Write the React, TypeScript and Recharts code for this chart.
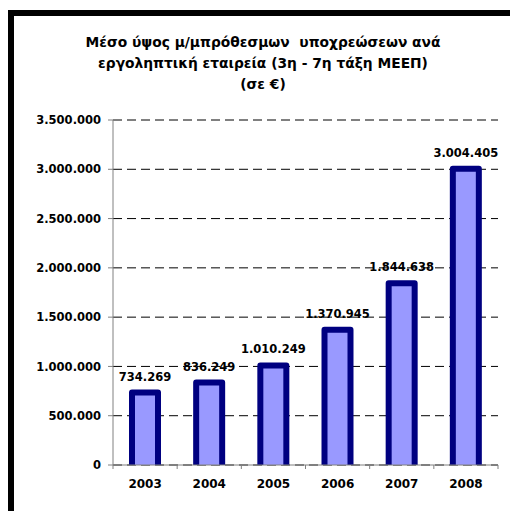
import React from 'react';
import { BarChart, Bar, XAxis, YAxis, CartesianGrid, LabelList } from 'recharts';

const years = ['2003', '2004', '2005', '2006', '2007', '2008'];
const values = [734269, 836249, 1010249, 1370945, 1844638, 3004405];
const yTicks = [0, 500000, 1000000, 1500000, 2000000, 2500000, 3000000, 3500000];
const titleLines = [
  'Μέσο ύψος μ/μπρόθεσμων  υποχρεώσεων ανά',
  'εργοληπτική εταιρεία (3η - 7η τάξη ΜΕΕΠ)',
  '(σε €)',
];

const data = years.map((y, i) => ({ year: y, value: values[i] }));

const fmt = (v: number) => String(Math.round(v)).replace(/\B(?=(\d{3})+(?!\d))/g, '.');

const FONT = '"DejaVu Sans", Verdana, sans-serif';

const XTick = (props: any) => {
  const { x, y, payload, index, visibleTicksCount, width } = props;
  const bw = width / visibleTicksCount;
  const left = x - bw / 2;
  return (
    <g>
      <line x1={left} x2={left} y1={y - 6} y2={y - 2} stroke="#808080" strokeWidth={1} />
      {index === visibleTicksCount - 1 && (
        <line x1={x + bw / 2} x2={x + bw / 2} y1={y - 6} y2={y - 2} stroke="#808080" strokeWidth={1} />
      )}
      <text x={x} y={y + 17} textAnchor="middle" fontFamily={FONT} fontWeight="bold" fontSize={12} fill="#000">
        {payload.value}
      </text>
    </g>
  );
};

const BarShape = (props: any) => {
  const { x, y, width, height } = props;
  const b = y + height;
  return (
    <g>
      <rect x={x} y={y} width={width} height={height} fill="#9999FF" />
      <path
        d={`M${x},${b} L${x},${y} L${x + width},${y} L${x + width},${b}`}
        fill="none"
        stroke="#000080"
        strokeWidth={6}
        strokeLinejoin="round"
      />
    </g>
  );
};

export default function App() {
  return (
    <div style={{ position: 'fixed', left: 0, top: 0, width: 510, height: 511, background: '#fff', overflow: 'hidden' }}>
      <div
        style={{
          position: 'absolute',
          left: 8,
          top: 10,
          width: 600,
          height: 600,
          borderTop: '6px solid #000',
          borderLeft: '6px solid #000',
          boxSizing: 'border-box',
        }}
      />
      <div
        style={{
          position: 'absolute',
          left: 263 - 220,
          width: 440,
          top: 31.5,
          textAlign: 'center',
          fontFamily: FONT,
          fontWeight: 'bold',
          fontSize: 13.8,
          lineHeight: '21px',
          color: '#000',
          whiteSpace: 'pre',
        }}
      >
        {titleLines.map((t, i) => (
          <div key={i}>{t}</div>
        ))}
      </div>
      <div style={{ position: 'absolute', left: 0, top: 0 }}>
        <BarChart
          width={510}
          height={511}
          data={data}
          margin={{ top: 120, right: 12, bottom: 16, left: 13 }}
          barCategoryGap={0}
        >
          <CartesianGrid vertical={false} stroke="#000" strokeDasharray="9 5" />
          <Bar
            dataKey="value"
            fill="#9999FF"
            stroke="#000080"
            barSize={26}
            shape={<BarShape />}
            isAnimationActive={false}
          >
            <LabelList
              dataKey="value"
              position="top"
              offset={12}
              formatter={(v: any) => fmt(Number(v))}
              style={{ fontFamily: FONT, fontWeight: 'bold', fontSize: 11.5, fill: '#000', stroke: 'none' }}
            />
          </Bar>
          <XAxis
            dataKey="year"
            height={30}
            axisLine={{ stroke: '#808080' }}
            tickLine={false}
            tickSize={4}
            tickMargin={2}
            tick={<XTick />}
            interval={0}
          />
          <YAxis
            width={100}
            domain={[0, 3500000]}
            ticks={yTicks}
            interval={0}
            tickFormatter={fmt}
            axisLine={{ stroke: '#808080' }}
            tickLine={{ stroke: '#808080' }}
            tickSize={5}
            tickMargin={7}
            tick={{ fontFamily: FONT, fontWeight: 'bold', fontSize: 11.5, fill: '#000' }}
          />
        </BarChart>
      </div>
    </div>
  );
}
